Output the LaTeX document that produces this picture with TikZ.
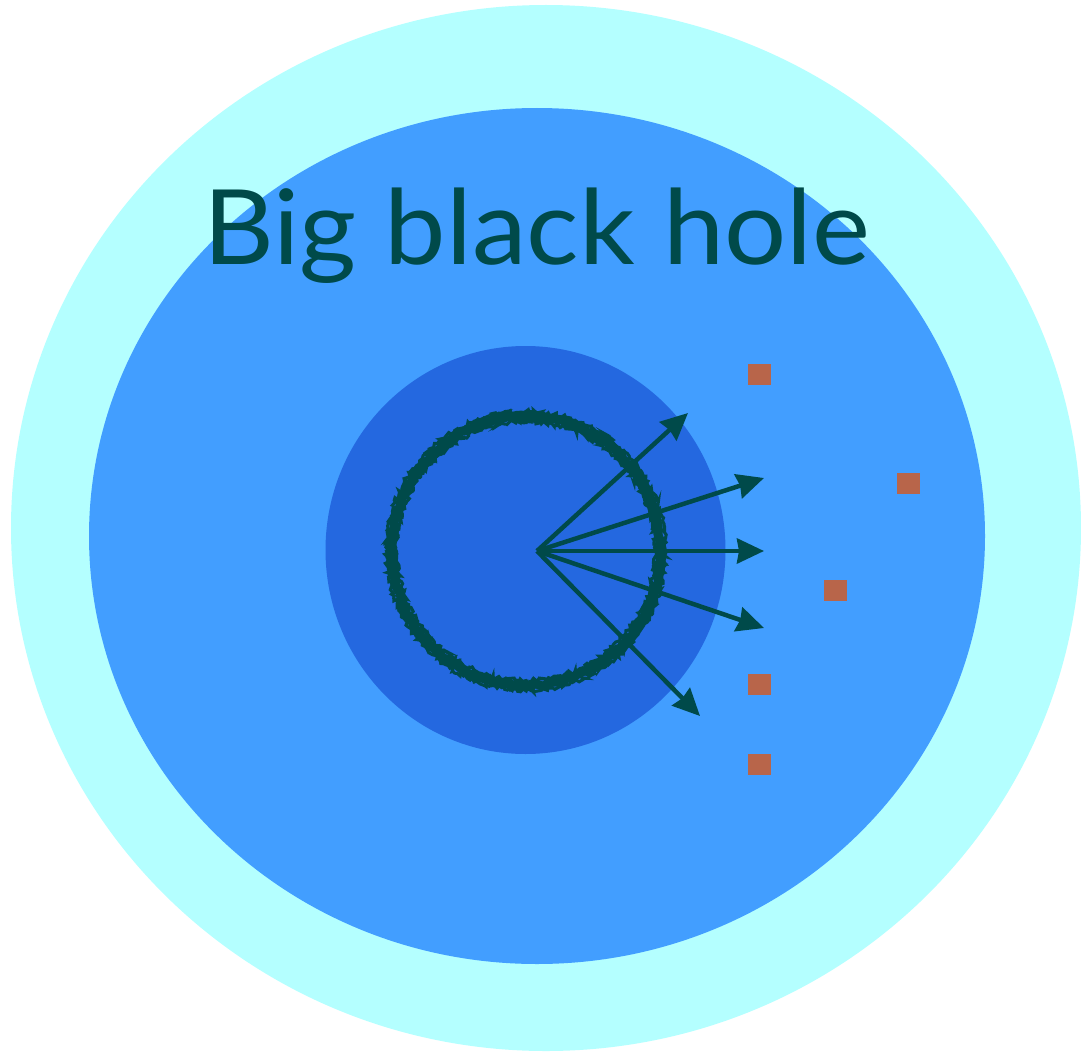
\documentclass[tikz,border=0pt]{standalone}
\usepackage{fontspec}
\setmainfont{Lato}
\usetikzlibrary{arrows.meta,decorations.pathmorphing}
\definecolor{outerc}{RGB}{180,255,255}
\definecolor{midc}{RGB}{66,158,255}
\definecolor{innerc}{RGB}{36,104,224}
\definecolor{tealc}{RGB}{0,74,74}
\definecolor{sqc}{RGB}{184,101,74}
\tikzset{
  ray/.style={draw=tealc,line width=4.5pt,-{Stealth[length=27pt,width=25pt,inset=2pt]}},
  sq/.style={fill=sqc,minimum width=23pt,minimum height=21pt,inner sep=0pt,draw=none},
  rough/.style={draw=tealc,decorate,decoration={random steps,segment length=3pt,amplitude=1.6pt}}
}
\begin{document}
\begin{tikzpicture}[x=1pt,y=-1pt]
\useasboundingbox (0,0) rectangle (1081,1054);
\clip (0,0) rectangle (1081,1054);
\fill[white] (0,0) rectangle (1081,1054);
\fill[outerc] (546,528) ellipse [x radius=535pt, y radius=523pt];
\fill[midc] (537,536) ellipse [x radius=448pt, y radius=428pt];
\fill[innerc] (525.5,550) ellipse [x radius=200pt, y radius=204pt];
\node[font=\fontsize{104}{104}\selectfont,text=tealc,anchor=base,inner sep=0pt] (title) at (537,264) {\scalebox{1.055}[1]{Big black hole}};
% rough ring
\draw[rough,line width=9pt] (526,551) circle [radius=134.5pt];
\draw[rough,line width=3pt,decoration={random steps,segment length=2pt,amplitude=2pt}] (526,551) circle [radius=139.5pt];
\draw[rough,line width=3pt,decoration={random steps,segment length=2pt,amplitude=2pt}] (526,551) circle [radius=129.5pt];
\coordinate (o) at (537,551);
\coordinate (e1) at (688,413);
\coordinate (e2) at (764,478);
\coordinate (e3) at (764,551);
\coordinate (e4) at (764,628);
\coordinate (e5) at (700,716);
\foreach \e in {e1,e2,e3,e4,e5} \draw[ray] (o) -- (\e);
\node[sq] (s1) at (759.5,374) {};
\node[sq] (s2) at (908.5,483) {};
\node[sq] (s3) at (835.5,590) {};
\node[sq] (s4) at (759.5,684) {};
\node[sq] (s5) at (759.5,764) {};
\end{tikzpicture}
\end{document}
